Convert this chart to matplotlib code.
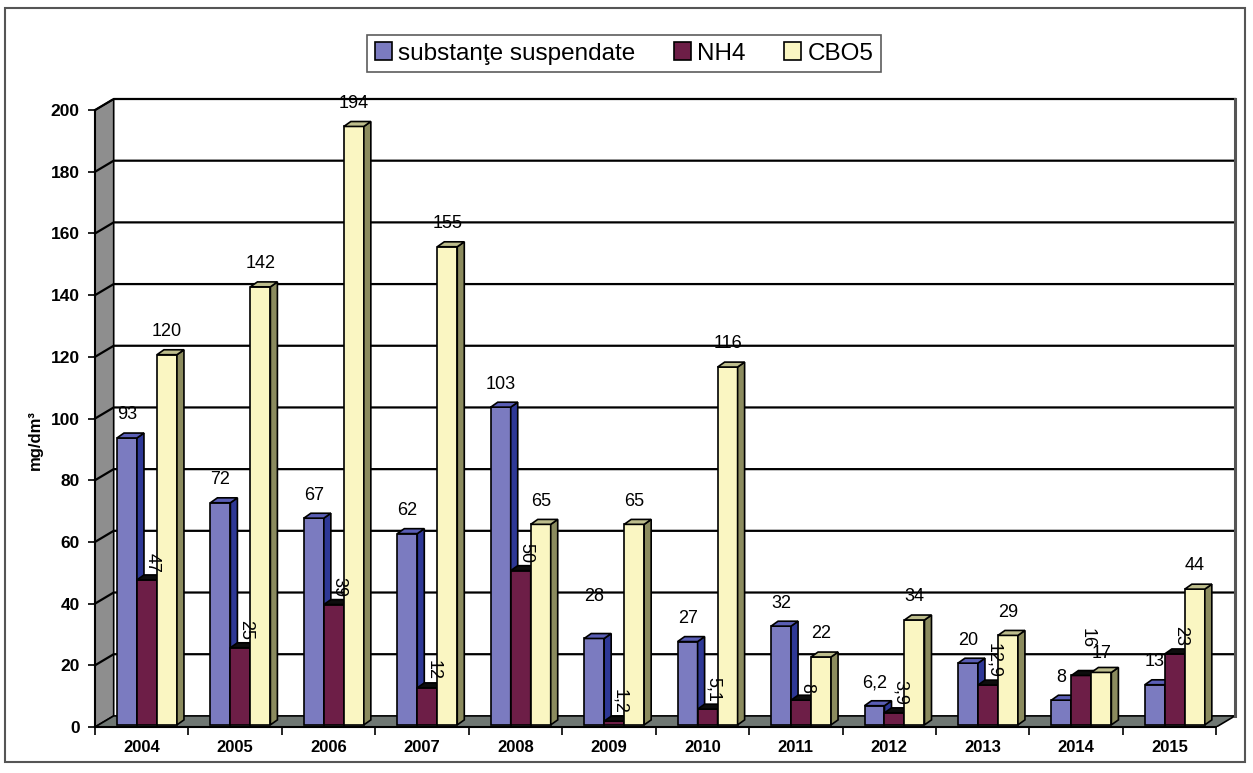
import matplotlib
matplotlib.use("Agg")
import matplotlib.pyplot as plt
from matplotlib.patches import Polygon, Patch, Rectangle

plt.rcParams['font.family'] = ['Liberation Sans', 'DejaVu Sans']

# data
years = ['2004', '2005', '2006', '2007', '2008', '2009',
         '2010', '2011', '2012', '2013', '2014', '2015']
suspendate = [93, 72, 67, 62, 103, 28, 27, 32, 6.2, 20, 8, 13]
nh4 = [47, 25, 39, 12, 50, 1.2, 5.1, 8, 3.9, 12.9, 16, 23]
cbo5 = [120, 142, 194, 155, 65, 65, 116, 22, 34, 29, 17, 44]
series_names = ['substanţe suspendate', 'NH4', 'CBO5']

# style: front, side, top colour of each series
front_cols = ['#7B7BC0', '#6D1E47', '#FAF6C2']
side_cols = ['#2E3896', '#1A0510', '#8B8B5E']
top_cols = ['#5A5EB5', '#0D0D0D', '#BDBD8C']

DX, DY = 0.2, 3.6      # depth of the walls (category units, value units)
BX, BY = 0.075, 1.6    # depth of each bar
BASE = 0.7             # bars stand in the middle of the floor
W = 0.214
offsets = [-0.158, 0.056, 0.270]
n = len(years)
# a few labels sit higher / lower in the original
label_nudge = {(0, '2009'): 6, (1, '2014'): 6.5, (2, '2014'): -1.5}

fig = plt.figure(figsize=(12.53, 7.73), dpi=100)
ax = fig.add_axes([95 / 1253, 46 / 773, 1140 / 1253, 628 / 773])
ax.set_xlim(-0.5, n - 0.5 + DX)
ax.set_ylim(0, 200 + DY)

# walls and floor
ax.add_patch(Polygon([(-0.5, 0), (-0.5 + DX, DY), (-0.5 + DX, 200 + DY), (-0.5, 200)],
                     closed=True, facecolor='#8E8E8E', edgecolor='black', lw=1.2, zorder=1))
ax.add_patch(Polygon([(-0.5, 0), (n - 0.5, 0), (n - 0.5 + DX, DY), (-0.5 + DX, DY)],
                     closed=True, facecolor='#6F7773', edgecolor='black', lw=1.2, zorder=1))
for v in range(20, 201, 20):
    ax.plot([-0.5, -0.5 + DX, n - 0.5 + DX], [v, v + DY, v + DY],
            color='black', lw=1.6, zorder=1.5, clip_on=False)
ax.plot([n - 0.5 + DX, n - 0.5 + DX], [DY, 200 + DY], color='#555555', lw=2.2,
        zorder=1.5, clip_on=False)

# bars with fake 3d sides
for i, vals in enumerate([suspendate, nh4, cbo5]):
    xs = [k + offsets[i] for k in range(n)]
    bars = ax.bar(xs, vals, width=W, bottom=BASE, color=front_cols[i],
                  edgecolor='black', lw=1.2, zorder=3 + i)
    for rect in bars:
        x0, y0 = rect.get_x(), rect.get_y()
        w, h = rect.get_width(), rect.get_height()
        side = [(x0 + w, y0), (x0 + w + BX, y0 + BY), (x0 + w + BX, y0 + h + BY), (x0 + w, y0 + h)]
        top = [(x0, y0 + h), (x0 + w, y0 + h), (x0 + w + BX, y0 + h + BY), (x0 + BX, y0 + h + BY)]
        ax.add_patch(Polygon(side, closed=True, facecolor=side_cols[i], edgecolor='black',
                             lw=1.2, zorder=3 + i + 0.5))
        ax.add_patch(Polygon(top, closed=True, facecolor=top_cols[i], edgecolor='black',
                             lw=1.2, zorder=3 + i + 0.5))
    for k, (rect, v) in enumerate(zip(bars, vals)):
        txt = f"{v:g}".replace('.', ',')
        cx = rect.get_x() + rect.get_width() / 2
        top_y = rect.get_y() + rect.get_height()
        extra = label_nudge.get((i, years[k]), 0)
        if i == 1:
            ax.text(cx + BX / 2 + 0.02, top_y + BY + 0.8 + extra, txt, rotation=-90,
                    ha='center', va='bottom', fontsize=13, zorder=10)
        else:
            ax.text(cx, top_y + 7.5 + extra, txt, ha='center', va='center',
                    fontsize=13, zorder=10)

# axes
for s in ['top', 'right']:
    ax.spines[s].set_visible(False)
ax.spines['left'].set_bounds(0, 200)
ax.spines['bottom'].set_bounds(-0.5, n - 0.5)
ax.spines['left'].set_linewidth(1.5)
ax.spines['bottom'].set_linewidth(1.5)
ax.spines['left'].set_zorder(2)
ax.spines['bottom'].set_zorder(2)
ax.set_yticks(range(0, 201, 20))
ax.tick_params(axis='y', direction='out', length=5, width=1.2, labelsize=12.5, pad=6)
for lbl in ax.get_yticklabels():
    lbl.set_fontweight('bold')
ax.set_xticks(range(n))
ax.set_xticklabels(years, fontweight='bold', fontsize=12)
ax.set_xticks([k - 0.5 for k in range(n + 1)], minor=True)
ax.tick_params(axis='x', which='major', length=0, pad=9)
ax.tick_params(axis='x', which='minor', direction='out', length=6, width=1.2)

fig.text(35 / 1253, 1 - 440 / 773, 'mg/dm³', rotation=90, ha='center', va='center',
         fontsize=12, fontweight='bold')

handles = [Patch(facecolor=c, edgecolor='black', lw=1.2) for c in front_cols]
leg = fig.legend(handles, series_names, loc='center', bbox_to_anchor=(624 / 1253, 1 - 53.5 / 773),
                 ncol=3, fontsize=17.5, frameon=True, fancybox=False, handlelength=0.7,
                 handleheight=0.7, handletextpad=0.25, columnspacing=1.6, borderpad=0.3,
                 borderaxespad=0)
leg.get_frame().set_edgecolor('#333333')
leg.get_frame().set_linewidth(1.2)

fig.patches.append(Rectangle((5 / 1253, 11 / 773), 1240 / 1253, 754 / 773,
                             transform=fig.transFigure, fill=False, edgecolor='#555555', lw=1.5))

fig.savefig('out.png', dpi=100)
